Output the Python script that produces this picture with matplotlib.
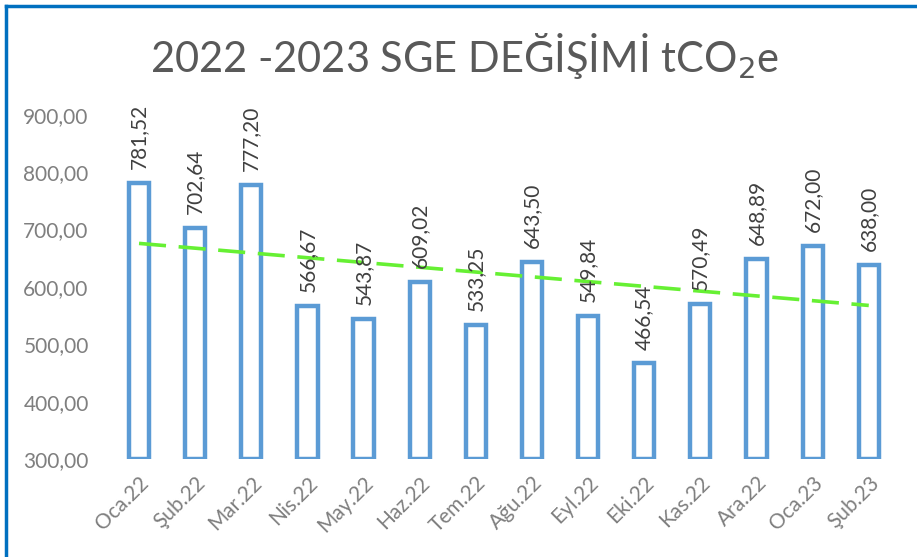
import matplotlib
matplotlib.use("Agg")
import matplotlib.pyplot as plt
from matplotlib.lines import Line2D
import numpy as np

plt.rcParams['font.family'] = ['Lato', 'DejaVu Sans']

months = ["Oca.22", "Şub.22", "Mar.22", "Nis.22", "May.22", "Haz.22", "Tem.22",
          "Ağu.22", "Eyl.22", "Eki.22", "Kas.22", "Ara.22", "Oca.23", "Şub.23"]
values = [781.52, 702.64, 777.20, 566.67, 543.87, 609.02, 533.25,
          643.50, 549.84, 466.54, 570.49, 648.89, 672.00, 638.00]
yticks = [300, 400, 500, 600, 700, 800, 900]

fig = plt.figure(figsize=(9.17, 5.57), dpi=100)
ax = fig.add_axes([0.121, 0.176, 0.857, 0.618])

x = np.arange(len(months))
bottom = 300
ax.bar(x, np.array(values) - bottom, bottom=bottom, width=0.36,
       facecolor='white', edgecolor='#5B9BD5', linewidth=3.2)

# data labels
for xi, v in zip(x, values):
    ax.annotate(f"{v:.2f}".replace('.', ','), (xi, v), xytext=(0, 10),
                textcoords='offset points', rotation=90, ha='center', va='bottom',
                fontsize=15, color='#404040', annotation_clip=False)

# linear trend
k, b = np.polyfit(x, values, 1)
ax.plot(x, k * x + b, linestyle=(0, (7.5, 3.5)), color='#66F033', linewidth=2.6)

ax.set_xlim(-0.5, len(months) - 0.5)
ax.set_ylim(300, 900)
ax.set_yticks(yticks)
ax.set_yticklabels([f"{t:.2f}".replace('.', ',') for t in yticks])
ax.set_xticks(x)
ax.set_xticklabels(months, rotation=45, ha='right', rotation_mode='anchor')
ax.tick_params(length=0, labelsize=15, labelcolor='#7F7F7F')
ax.tick_params(axis='x', pad=10)
ax.tick_params(axis='y', pad=16)
for s in ax.spines.values():
    s.set_visible(False)

fig.text(0.507, 0.9, "2022 -2023 SGE DEĞİŞİMİ tCO$_2$e", ha='center', va='center',
         fontsize=30, color='#595959')

# chart border (top and left visible)
fig.add_artist(Line2D([6 / 917, 1], [1 - 6 / 557, 1 - 6 / 557], transform=fig.transFigure,
                      color='#0070C0', linewidth=2.5))
fig.add_artist(Line2D([6 / 917, 6 / 917], [0, 1 - 6 / 557], transform=fig.transFigure,
                      color='#0070C0', linewidth=2.5))

fig.savefig("out.png", dpi=100)
